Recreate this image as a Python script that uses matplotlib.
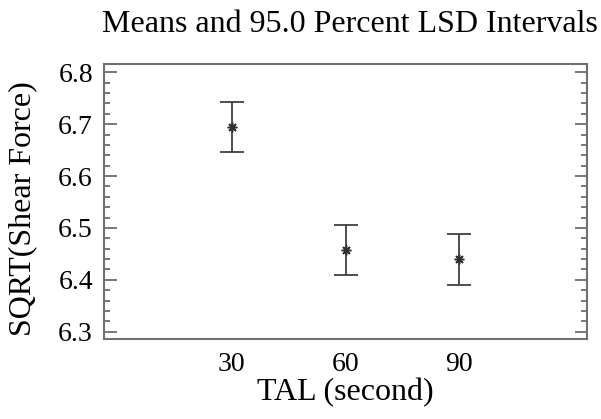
import matplotlib
matplotlib.use("Agg")
import matplotlib.pyplot as plt
from matplotlib.ticker import MultipleLocator

categories = ["30", "60", "90"]
means = [6.694, 6.457, 6.440]
lower = [6.647, 6.409, 6.391]
upper = [6.742, 6.506, 6.488]
yticks = [6.3, 6.4, 6.5, 6.6, 6.7, 6.8]

plt.rcParams['font.family'] = ['Liberation Serif', 'DejaVu Serif']

fig = plt.figure(figsize=(6.01, 4.19), dpi=100)
ax = fig.add_axes([104/601, 1-339/419, (587-104)/601, (339-64)/419])

x = [1, 2, 3]
yerr = [[m - l for m, l in zip(means, lower)], [u - m for m, u in zip(means, upper)]]
ax.errorbar(x, means, yerr=yerr, fmt='none', ecolor='#404040', elinewidth=1.3,
            capsize=8.3, capthick=1.3)
ax.plot(x, means, linestyle='none', marker=(8, 2, 0), markersize=7,
        color='#303030', markeredgewidth=1.1)

ax.set_xlim(-0.12, 4.12)
ax.set_ylim(6.286, 6.816)
ax.set_xticks(x)
ax.set_xticklabels(categories)
ax.set_yticks(yticks)
ax.set_yticklabels([f"{v:.1f}" for v in yticks])
ax.yaxis.set_minor_locator(MultipleLocator(0.02))
ax.tick_params(axis='y', which='major', direction='in', length=9, width=1.2,
               color='#606060', left=True, right=True, labelsize=20, pad=8)
ax.tick_params(axis='y', which='minor', direction='in', length=4.5, width=1.2,
               color='#606060', left=True, right=True)
ax.tick_params(axis='x', which='both', length=0, labelsize=20, pad=9)
for s in ax.spines.values():
    s.set_color('#707070')
    s.set_linewidth(1.5)

ax.set_xlabel("TAL (second)", fontsize=23, labelpad=1)
ax.set_ylabel("SQRT(Shear Force)", fontsize=23)
ax.yaxis.set_label_coords(-0.139, 0.473)
fig.text(350/601, 1-32/419, "Means and 95.0 Percent LSD Intervals", fontsize=23,
         ha='center', va='baseline')

fig.savefig("out.png", dpi=100)
